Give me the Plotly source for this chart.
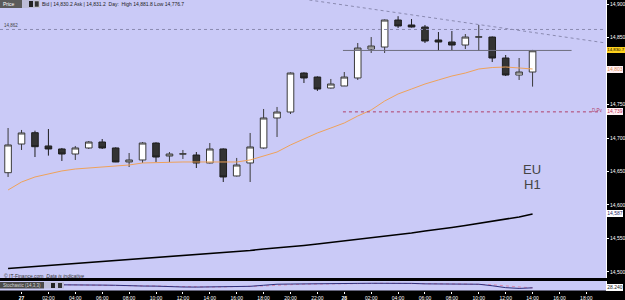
import plotly.graph_objects as go

# ---------------- data ----------------
hours = list(range(-1, 39))  # hourly bars, 0 = 27th 00:00
opens = [14648.2, 14691.0, 14707.9, 14688.1, 14683.6, 14676.1, 14685.1, 14694.0, 14685.1, 14664.2,
         14667.2, 14692.5, 14673.1, 14676.1, 14674.6, 14662.7, 14683.6, 14643.3, 14662.7, 14685.1,
         14729.9, 14738.8, 14797.0, 14791.0, 14774.6, 14777.6, 14789.6, 14832.8, 14835.8, 14876.1,
         14868.7, 14865.7, 14846.3, 14843.3, 14838.8, 14850.7, 14850.7, 14819.4, 14794.0, 14798.5]
highs = [14714.9, 14712.0, 14710.9, 14713.4, 14685.1, 14688.1, 14695.5, 14698.5, 14686.0, 14677.6,
         14694.0, 14693.5, 14679.1, 14682.1, 14679.1, 14692.5, 14684.5, 14670.2, 14707.5, 14743.3,
         14746.3, 14798.0, 14798.0, 14792.0, 14788.1, 14798.5, 14841.8, 14850.7, 14877.0, 14881.8,
         14877.6, 14868.7, 14858.2, 14859.7, 14855.2, 14868.7, 14851.5, 14823.9, 14819.4, 14831.5]
lows = [14641.8, 14682.1, 14671.6, 14673.7, 14665.7, 14667.2, 14683.6, 14683.6, 14664.0, 14656.7,
        14662.7, 14664.2, 14664.2, 14668.7, 14655.2, 14662.0, 14634.3, 14642.5, 14634.3, 14684.0,
        14701.5, 14735.8, 14782.1, 14770.2, 14773.8, 14778.0, 14786.6, 14826.9, 14826.9, 14864.2,
        14865.0, 14841.8, 14829.9, 14831.3, 14832.8, 14829.9, 14813.4, 14792.5, 14786.6, 14776.7]
closes = [14689.6, 14707.5, 14687.0, 14683.6, 14676.1, 14685.1, 14694.0, 14685.1, 14664.2, 14667.2,
          14692.5, 14671.6, 14676.1, 14676.3, 14662.7, 14683.6, 14641.8, 14659.7, 14686.6, 14729.9,
          14738.8, 14797.0, 14789.6, 14773.1, 14780.6, 14791.0, 14834.3, 14837.3, 14876.1, 14867.2,
          14865.7, 14844.8, 14843.3, 14838.8, 14850.7, 14850.9, 14819.4, 14794.0, 14798.5, 14830.2]
ma_fast = [14622.4, 14634.3, 14641.8, 14646.3, 14650.8, 14653.7, 14655.2, 14656.7, 14658.2, 14659.7,
           14662.7, 14663.4, 14664.2, 14664.2, 14664.2, 14664.2, 14663.4, 14664.2, 14667.2, 14673.1,
           14679.1, 14689.6, 14698.5, 14707.5, 14714.9, 14722.4, 14732.8, 14741.8, 14755.2, 14765.7,
           14773.1, 14780.6, 14786.6, 14792.5, 14797.0, 14803.0, 14805.2, 14806.0, 14804.5, 14803.0]
ma_slow = [14505.2, 14506.7, 14508.2, 14509.7, 14511.2, 14512.7, 14514.2, 14515.2, 14516.4, 14517.9,
           14519.4, 14520.9, 14522.4, 14523.9, 14525.4, 14526.9, 14529.1, 14530.6, 14532.1, 14534.3,
           14535.8, 14537.3, 14539.6, 14541.8, 14544.1, 14546.3, 14548.5, 14550.8, 14553.0, 14556.0,
           14558.2, 14561.2, 14563.4, 14566.4, 14569.4, 14572.4, 14575.4, 14578.4, 14582.1, 14586.6]
stoch_k = [63, 63, 62, 60, 58, 58, 58, 57, 55, 48, 47, 46, 38, 37, 36, 37, 40, 42, 44, 55,
           66, 68, 68, 68, 68, 70, 75, 76, 77, 76, 75, 70, 68, 68, 67, 66, 50, 30, 22, 28.24]
stoch_d = [62, 63, 63, 62, 60, 59, 58, 58, 57, 54, 50, 47, 44, 40, 37, 37, 38, 40, 42, 47,
           55, 63, 67, 68, 68, 69, 71, 74, 76, 76, 76, 74, 71, 69, 68, 67, 61, 49, 34, 27]
tick_hours = list(range(0, 43, 2))
tick_text = ["<b>27</b>", "02:00", "04:00", "06:00", "08:00", "10:00", "12:00", "14:00", "16:00",
             "18:00", "20:00", "22:00", "<b>28</b>", "02:00", "04:00", "06:00", "08:00", "10:00",
             "12:00", "14:00", "16:00", "18:00"]
price_ticks = [14500, 14550, 14600, 14650, 14700, 14750, 14850, 14900]
bid, ask, day_high, day_low = 14830.2, 14831.2, 14881.8, 14776.7
level_dotted = 14862.0
pivot = 14739.0
trend_start = (21.4, 14906.0)
trend_end = (43.46, 14841.8)
res_line = 14830.7

# ---------------- geometry helpers ----------------
W, H = 625, 300
ML, MR, MT, MB = 0, 19, 0, 9
PW, PH = W - ML - MR, H - MT - MB
BG = "rgb(202,202,247)"


def px(x):
    return (x - ML) / PW


def py(y):
    return 1 - (y - MT) / PH


fig = go.Figure()

fig.add_trace(go.Candlestick(
    x=hours, open=opens, high=highs, low=lows, close=closes,
    increasing=dict(line=dict(color="#3a3a3a", width=1), fillcolor="white"),
    decreasing=dict(line=dict(color="#1e1e1e", width=1), fillcolor="#333333"),
    whiskerwidth=0, showlegend=False, hoverinfo="skip", xaxis="x", yaxis="y"))

fig.add_trace(go.Scatter(x=hours, y=ma_fast, mode="lines",
                         line=dict(color="#EFA25A", width=1), showlegend=False,
                         hoverinfo="skip", xaxis="x", yaxis="y"))
fig.add_trace(go.Scatter(x=hours, y=ma_slow, mode="lines",
                         line=dict(color="black", width=1.6), showlegend=False,
                         hoverinfo="skip", xaxis="x", yaxis="y"))

fig.add_trace(go.Scatter(x=hours, y=stoch_d, mode="lines",
                         line=dict(color="#D98AB0", width=1, dash="dot"), showlegend=False,
                         hoverinfo="skip", xaxis="x2", yaxis="y2"))
fig.add_trace(go.Scatter(x=hours, y=stoch_k, mode="lines",
                         line=dict(color="#2E2E7A", width=1), showlegend=False,
                         hoverinfo="skip", xaxis="x2", yaxis="y2"))

xr = [-1.6, 43.46]
main_dom = [(PH - 278) / PH, 1]
sto_dom = [(PH - 290.5) / PH, (PH - 281) / PH]

shapes = [
    dict(type="line", xref="x", yref="y", x0=xr[0], x1=xr[1], y0=level_dotted, y1=level_dotted,
         line=dict(color="#8A8AB0", width=1, dash="dot")),
    dict(type="line", xref="x", yref="y", x0=trend_start[0], y0=trend_start[1],
         x1=trend_end[0], y1=trend_end[1], line=dict(color="#8A8AB0", width=1, dash="dot")),
    dict(type="line", xref="x", yref="y", x0=23.9, x1=40.9, y0=res_line, y1=res_line,
         line=dict(color="#6E6E7E", width=1)),
    dict(type="line", xref="x", yref="y", x0=23.9, x1=43.1, y0=pivot, y1=pivot,
         line=dict(color="#B0406A", width=1, dash="dot")),
    dict(type="rect", xref="paper", yref="paper", x0=px(0), x1=px(22), y0=py(8), y1=py(0),
         fillcolor="#5a5a5a", line=dict(width=0)),
    dict(type="rect", xref="paper", yref="paper", x0=px(22), x1=px(40), y0=py(8), y1=py(0),
         fillcolor="#bdbdd8", line=dict(width=0)),
    dict(type="rect", xref="paper", yref="paper", x0=px(29), x1=px(33), y0=py(7), y1=py(1),
         fillcolor="#222", line=dict(width=0)),
    dict(type="rect", xref="paper", yref="paper", x0=px(34.5), x1=px(39), y0=py(7), y1=py(1),
         fillcolor="#333", line=dict(color="#ddd", width=0.5)),
    dict(type="rect", xref="paper", yref="paper", x0=px(0), x1=px(44), y0=py(288.5), y1=py(282),
         fillcolor="#4a4a4a", line=dict(width=0)),
    dict(type="rect", xref="paper", yref="paper", x0=px(44), x1=px(64), y0=py(288.5), y1=py(282),
         fillcolor="#bdbdd8", line=dict(width=0)),
    dict(type="rect", xref="paper", yref="paper", x0=px(51), x1=px(55), y0=py(288), y1=py(283),
         fillcolor="#222", line=dict(width=0)),
    dict(type="rect", xref="paper", yref="paper", x0=px(58), x1=px(62), y0=py(288), y1=py(283),
         fillcolor="#333", line=dict(width=0)),
]

ann = []


def text_ann(x, y, text, size=5, color="#222", xanchor="left", yanchor="middle", **kw):
    ann.append(dict(xref="paper", yref="paper", x=px(x), y=py(y), text=text, showarrow=False,
                    xanchor=xanchor, yanchor=yanchor,
                    font=dict(size=size, color=color, family="Liberation Sans, Arial"), **kw))


text_ann(1, 4, "Price", size=5, color="white")
text_ann(40, 4, f"Bid | {bid:,.1f} Ask | {ask:,.1f}  Day:  High {day_high:,.1f} Low {day_low:,.1f}",
         size=5, color="#222")
text_ann(2, 25, f"{level_dotted:,.0f}", size=4.5, color="#444")
text_ann(605, 110, "D Pv", size=4.5, color="#B0406A", xanchor="right")
text_ann(2, 276, "© IT-Finance.com  <i>Data is indicative</i>", size=5, color="#333")
text_ann(1, 285.3, "Stochastic (14,3,3)", size=4.5, color="#d8d8d8")
text_ann(532, 169, "EU", size=13, color="#444", xanchor="center")
text_ann(532, 184, "H1", size=13, color="#444", xanchor="center")


def price_box(price, text, fg, bg, yref="y", size=5):
    ann.append(dict(xref="paper", yref=yref, x=px(606.5), y=price, text=text, showarrow=False,
                    xanchor="left", yanchor="middle", bgcolor=bg, borderpad=0.3,
                    bordercolor=bg, borderwidth=0,
                    font=dict(size=size, color=fg, family="Liberation Sans, Arial")))


price_box(res_line, f"{res_line:,.1f}", "black", "#FFD21E", size=4.3)
price_box(ma_fast[-1], f"{ma_fast[-1]:,.0f}", "#E0905A", "#FFF0F4")
price_box(pivot, f"{pivot:,.0f}", "#C03060", "#FFF0F4")
price_box(ma_slow[-1], f"{ma_slow[-1]:,.0f}", "#2A2A6A", "white")
price_box(stoch_k[-1], f"{stoch_k[-1]:.3f}", "#222", "white", yref="y2")

fig.update_layout(
    width=W, height=H, margin=dict(l=ML, r=MR, t=MT, b=MB),
    paper_bgcolor="black", plot_bgcolor=BG, showlegend=False,
    xaxis=dict(domain=[0, 1], range=xr, anchor="y", showticklabels=False, showgrid=False,
               zeroline=False, rangeslider=dict(visible=False), fixedrange=True),
    xaxis2=dict(domain=[0, 1], range=xr, anchor="y2", matches="x", showgrid=False, zeroline=False,
                tickmode="array", tickvals=tick_hours, ticktext=tick_text, ticks="outside",
                ticklen=2, tickcolor="white",
                tickfont=dict(size=5, color="white", family="Liberation Sans, Arial")),
    yaxis=dict(domain=main_dom, range=[14491, 14906], side="right", anchor="x",
               tickmode="array", tickvals=price_ticks,
               ticktext=[f"{v:,}" for v in price_ticks], ticks="outside", ticklen=2,
               tickcolor="white", showline=True, linecolor="white", linewidth=1,
               showgrid=False, zeroline=False,
               tickfont=dict(size=5, color="white", family="Liberation Sans, Arial")),
    yaxis2=dict(domain=sto_dom, range=[0, 100], side="right", anchor="x2", showticklabels=False,
                showgrid=False, zeroline=False, showline=True, linecolor="white", linewidth=1),
    shapes=shapes, annotations=ann,
)

fig.write_html("out.html")
